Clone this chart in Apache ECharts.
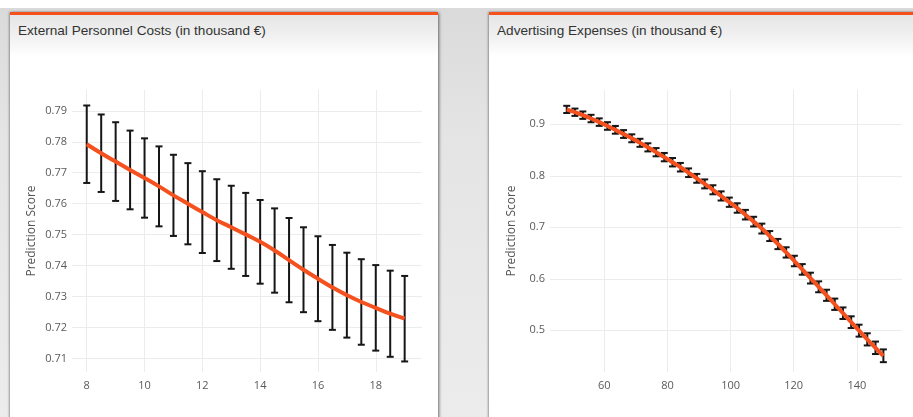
<!DOCTYPE html>
<html>
<head>
<meta charset="utf-8">
<script src="https://cdn.jsdelivr.net/npm/echarts@6/dist/echarts.min.js"></script>
<style>
  html, body { margin: 0; padding: 0; background: #fff; }
  body { width: 913px; height: 417px; position: relative; overflow: hidden; font-family: "Liberation Sans", Arial, sans-serif; }
  .backdrop { position: absolute; left: 0; top: 8px; width: 913px; height: 409px;
    background: linear-gradient(to bottom, #d9dad9 0px, #e3e4e3 120px, #ececec 409px); }
  .panel { position: absolute; top: 12px; height: 420px; background: #fff;
    border-top: 3px solid #f4511e; box-shadow: 1px 1px 3px rgba(0,0,0,0.55), -1px 0 2px rgba(0,0,0,0.25); }
  .panel .head { position: absolute; left: 0; right: 0; top: 0; height: 42px;
    background: linear-gradient(to bottom, #e4e5e4 0%, #f1f2f1 55%, #ffffff 100%); }
  .panel .title { position: absolute; left: 8px; top: 8px; font-size: 13.6px; color: #333; white-space: nowrap; }
  #p1 { left: 10px; width: 428px; }
  #p2 { left: 489px; width: 440px; }
  #chart { position: absolute; left: 0; top: 0; width: 913px; height: 417px; }
</style>
</head>
<body>
<div class="backdrop"></div>
<div class="panel" id="p1"><div class="head"></div><div class="title">External Personnel Costs (in thousand €)</div></div>
<div class="panel" id="p2"><div class="head"></div><div class="title">Advertising Expenses (in thousand €)</div></div>
<div id="chart"></div>
<script>
// External personnel costs: input values, predicted score and error half-width
const personnelX = [8, 8.5, 9, 9.5, 10, 10.5, 11, 11.5, 12, 12.5, 13, 13.5, 14, 14.5, 15, 15.5, 16, 16.5, 17, 17.5, 18, 18.5, 19];
const personnelScore = [0.7792, 0.7763, 0.7736, 0.7709, 0.7683, 0.7656, 0.7627, 0.7600, 0.7573, 0.7547, 0.7524, 0.7501,
  0.7477, 0.7449, 0.7418, 0.7387, 0.7358, 0.7330, 0.7305, 0.7283, 0.7264, 0.7245, 0.7229];
const personnelErr = [0.0125, 0.0125, 0.0127, 0.0127, 0.0128, 0.0129, 0.0131, 0.0131, 0.0132, 0.0132, 0.0134, 0.0134,
  0.0135, 0.0136, 0.0136, 0.0137, 0.0137, 0.0137, 0.0137, 0.0138, 0.0138, 0.0139, 0.0138];

// Advertising expenses: input values, predicted score and error half-width
const advertX = [48.1, 50.7, 53.2, 55.8, 58.4, 61.0, 63.5, 66.1, 68.7, 71.3, 73.8, 76.4, 79.0, 81.6, 84.1, 86.7,
  89.3, 91.8, 94.4, 97.0, 99.6, 102.1, 104.7, 107.3, 109.9, 112.4, 115.0, 117.6, 120.2, 122.7, 125.3, 127.9,
  130.4, 133.0, 135.6, 138.2, 140.7, 143.3, 145.9, 148.4];
const advertScore = [0.929, 0.9235, 0.9178, 0.9113, 0.9043, 0.8968, 0.8893, 0.8812, 0.8729, 0.8641, 0.8553, 0.8459,
  0.8363, 0.8264, 0.8167, 0.8060, 0.7951, 0.7843, 0.7729, 0.7609, 0.7487, 0.7375, 0.7245, 0.7110, 0.6975, 0.6830,
  0.6675, 0.6512, 0.6345, 0.6182, 0.6013, 0.5844, 0.5679, 0.5505, 0.5331, 0.5157, 0.4992, 0.4823, 0.4659, 0.4504];
const advertErr = [0.0070, 0.0071, 0.0072, 0.0072, 0.0073, 0.0074, 0.0075, 0.0076, 0.0077, 0.0078, 0.0079, 0.0080,
  0.0081, 0.0082, 0.0083, 0.0084, 0.0086, 0.0087, 0.0088, 0.0089, 0.0090, 0.0092, 0.0093, 0.0094, 0.0096, 0.0097,
  0.0099, 0.0100, 0.0102, 0.0103, 0.0105, 0.0106, 0.0108, 0.0110, 0.0112, 0.0114, 0.0116, 0.0118, 0.0121, 0.0124];

const ORANGE = '#f4511e';
const LABEL = { color: '#5a5a5a', fontFamily: 'Open Sans', fontSize: 11 };

function pairs(xs, ys) { return xs.map((x, i) => [x, ys[i]]); }
function bars(xs, ys, es) { return xs.map((x, i) => [x, ys[i] - es[i], ys[i] + es[i]]); }

function renderErrorBar(params, api) {
  const x = api.value(0);
  const lo = api.coord([x, api.value(1)]);
  const hi = api.coord([x, api.value(2)]);
  const cap = 3.5;
  const style = { stroke: '#161616', lineWidth: 2 };
  return {
    type: 'group',
    children: [
      { type: 'line', shape: { x1: hi[0], y1: hi[1], x2: lo[0], y2: lo[1] }, style },
      { type: 'line', shape: { x1: hi[0] - cap, y1: hi[1], x2: hi[0] + cap, y2: hi[1] }, style },
      { type: 'line', shape: { x1: lo[0] - cap, y1: lo[1], x2: lo[0] + cap, y2: lo[1] }, style }
    ]
  };
}

function xAxis(gridIndex, min, max, step) {
  return {
    type: 'value', gridIndex, min, max, minInterval: step, maxInterval: step,
    axisLine: { show: false }, axisTick: { show: false },
    axisLabel: Object.assign({ margin: 8, showMinLabel: false, showMaxLabel: false }, LABEL),
    splitLine: { show: true, showMinLine: false, showMaxLine: false, lineStyle: { color: '#ececec', width: 1 } }
  };
}
function yAxis(gridIndex, min, max, step, gap) {
  return {
    type: 'value', gridIndex, min, max, minInterval: step, maxInterval: step,
    name: 'Prediction Score', nameLocation: 'middle', nameGap: gap, nameRotate: 90,
    nameTextStyle: { color: '#555', fontFamily: 'Open Sans', fontSize: 12 },
    axisLine: { show: false }, axisTick: { show: false },
    axisLabel: Object.assign({ margin: 5, showMinLabel: false, showMaxLabel: false }, LABEL),
    splitLine: { show: true, showMinLine: false, showMaxLine: false, lineStyle: { color: '#ececec', width: 1 } }
  };
}

const chart = echarts.init(document.getElementById('chart'), null, { renderer: 'canvas' });
chart.setOption({
  backgroundColor: 'transparent',
  animation: false,
  grid: [
    { left: 72, top: 90, width: 350, height: 282 },
    { left: 550, top: 90, width: 352, height: 282 }
  ],
  xAxis: [xAxis(0, 7.49, 19.6, 2), xAxis(1, 42.8, 154.3, 20)],
  yAxis: [yAxis(0, 0.7057, 0.7967, 0.01, 34), yAxis(1, 0.4189, 0.9667, 0.1, 32)],
  series: [
    { type: 'custom', xAxisIndex: 0, yAxisIndex: 0, renderItem: renderErrorBar,
      encode: { x: 0, y: [1, 2] }, data: bars(personnelX, personnelScore, personnelErr), z: 2 },
    { type: 'line', xAxisIndex: 0, yAxisIndex: 0, data: pairs(personnelX, personnelScore), smooth: true,
      showSymbol: false, lineStyle: { color: ORANGE, width: 4 }, z: 3 },
    { type: 'custom', xAxisIndex: 1, yAxisIndex: 1, renderItem: renderErrorBar,
      encode: { x: 0, y: [1, 2] }, data: bars(advertX, advertScore, advertErr), z: 2 },
    { type: 'line', xAxisIndex: 1, yAxisIndex: 1, data: pairs(advertX, advertScore), smooth: true,
      showSymbol: false, lineStyle: { color: ORANGE, width: 4 }, z: 3 }
  ]
});
</script>
</body>
</html>
